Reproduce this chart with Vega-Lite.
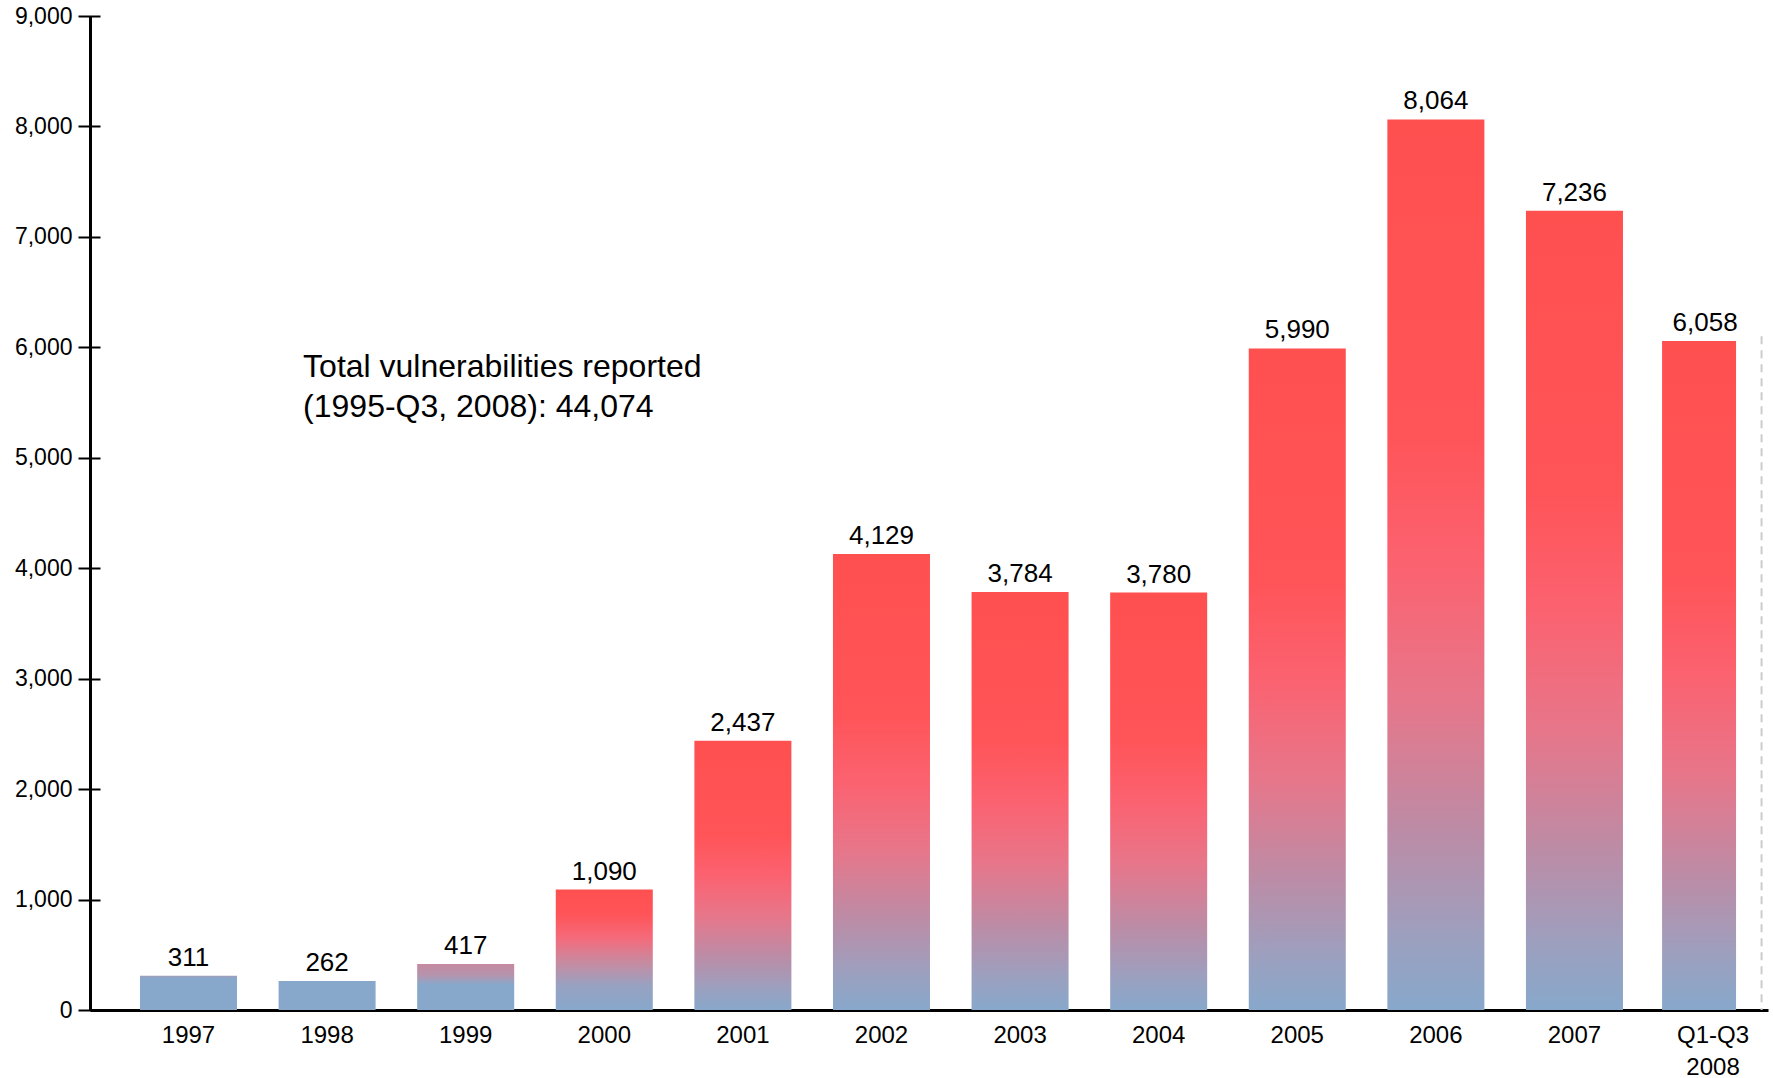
{
  "$schema": "https://vega.github.io/schema/vega-lite/v6.json",
  "autosize": {"type": "none"},
  "width": 1678,
  "height": 994,
  "padding": {"left": 90, "top": 16, "right": 5, "bottom": 68},
  "background": "white",
  "config": {
    "view": {"stroke": null},
    "font": "Liberation Sans",
    "axis": {"labelFont": "Liberation Sans", "titleFont": "Liberation Sans"},
    "text": {"font": "Liberation Sans"}
  },
  "data": {
    "values": [
      {"year": "1997", "value": 311},
      {"year": "1998", "value": 262},
      {"year": "1999", "value": 417},
      {"year": "2000", "value": 1090},
      {"year": "2001", "value": 2437},
      {"year": "2002", "value": 4129},
      {"year": "2003", "value": 3784},
      {"year": "2004", "value": 3780},
      {"year": "2005", "value": 5990},
      {"year": "2006", "value": 8064},
      {"year": "2007", "value": 7236},
      {"year": "Q1-Q3 2008", "value": 6058}
    ]
  },
  "encoding": {
    "x": {
      "field": "year",
      "type": "nominal",
      "sort": ["1997", "1998", "1999", "2000", "2001", "2002", "2003", "2004", "2005", "2006", "2007", "Q1-Q3 2008"],
      "title": null,
      "scale": {
        "domain": ["1997", "1998", "1999", "2000", "2001", "2002", "2003", "2004", "2005", "2006", "2007", "Q1-Q3 2008"],
        "paddingInner": 0.3, "paddingOuter": 0.2035, "align": 0.886
      },
      "axis": {
        "domain": true,
        "domainColor": "#000000",
        "domainWidth": 3,
        "ticks": false,
        "grid": false,
        "labelAngle": 0,
        "labelFontSize": 24,
        "labelColor": "#000000",
        "labelPadding": 13,
        "labelBaseline": "top",
        "labelLineHeight": 32,
        "labelExpr": "split(datum.value, ' ')",
        "title": null
      }
    }
  },
  "layer": [
    {
      "transform": [{"filter": "datum.value >= 2000 && datum.year != 'Q1-Q3 2008'"}],
      "mark": {
        "type": "bar",
        "fill": {
          "gradient": "linear", "x1": 0, "y1": 0, "x2": 0, "y2": 1,
          "stops": [
            {"offset": 0, "color": "#FF5050"},
            {"offset": 0.35, "color": "#FF5458"},
            {"offset": 0.5, "color": "#FB6270"},
            {"offset": 0.65, "color": "#E7768A"},
            {"offset": 0.8, "color": "#BC8CA6"},
            {"offset": 0.92, "color": "#9CA0BF"},
            {"offset": 1, "color": "#87A8CB"}
          ]
        }
      },
      "encoding": {
        "y": {
          "field": "value", "type": "quantitative", "title": null,
          "scale": {"domain": [0, 9000], "nice": false},
          "axis": {"orient": "left", "domain": true, "domainColor": "#000000", "domainWidth": 3, "ticks": false, "labels": false, "grid": false, "title": null}
        }
      }
    },
    {
      "transform": [{"filter": "datum.year == '2000'"}],
      "mark": {
        "type": "bar",
        "fill": {
          "gradient": "linear", "x1": 0, "y1": 0, "x2": 0, "y2": 1,
          "stops": [
            {"offset": 0, "color": "#FF5050"},
            {"offset": 0.2, "color": "#FF5458"},
            {"offset": 0.4, "color": "#F56A7A"},
            {"offset": 0.6, "color": "#C88AA0"},
            {"offset": 0.8, "color": "#98A2C2"},
            {"offset": 1, "color": "#87A8CB"}
          ]
        }
      },
      "encoding": {
        "y": {"field": "value", "type": "quantitative", "scale": {"domain": [0, 9000], "nice": false}, "axis": null}
      }
    },
    {
      "transform": [{"filter": "datum.year == '1999'"}],
      "mark": {
        "type": "bar",
        "fill": {
          "gradient": "linear", "x1": 0, "y1": 0, "x2": 0, "y2": 1,
          "stops": [
            {"offset": 0, "color": "#C68AA0"},
            {"offset": 0.25, "color": "#B494AE"},
            {"offset": 0.45, "color": "#88A8CB"},
            {"offset": 1, "color": "#87A8CB"}
          ]
        }
      },
      "encoding": {
        "y": {"field": "value", "type": "quantitative", "scale": {"domain": [0, 9000], "nice": false}, "axis": null}
      }
    },
    {
      "transform": [{"filter": "datum.year == '1997'"}],
      "mark": {
        "type": "bar",
        "fill": {
          "gradient": "linear", "x1": 0, "y1": 0, "x2": 0, "y2": 1,
          "stops": [
            {"offset": 0, "color": "#A29BB8"},
            {"offset": 0.08, "color": "#88A8CB"},
            {"offset": 1, "color": "#87A8CB"}
          ]
        }
      },
      "encoding": {
        "y": {"field": "value", "type": "quantitative", "scale": {"domain": [0, 9000], "nice": false}, "axis": null}
      }
    },
    {
      "transform": [{"filter": "datum.year == '1998'"}],
      "mark": {"type": "bar", "fill": "#87A8CB"},
      "encoding": {
        "y": {"field": "value", "type": "quantitative", "scale": {"domain": [0, 9000], "nice": false}, "axis": null}
      }
    },
    {
      "transform": [{"filter": "datum.year == 'Q1-Q3 2008'"}],
      "mark": {
        "type": "bar",
        "width": 74,
        "xOffset": -14,
        "y2Offset": -6,
        "fill": {
          "gradient": "linear", "x1": 0, "y1": 0, "x2": 0, "y2": 1,
          "stops": [
            {"offset": 0, "color": "#FF5050"},
            {"offset": 0.35, "color": "#FF5458"},
            {"offset": 0.5, "color": "#FB6270"},
            {"offset": 0.65, "color": "#E7768A"},
            {"offset": 0.8, "color": "#BC8CA6"},
            {"offset": 0.92, "color": "#9CA0BF"},
            {"offset": 1, "color": "#87A8CB"}
          ]
        }
      },
      "encoding": {
        "y": {"field": "value", "type": "quantitative", "scale": {"domain": [0, 9000], "nice": false}, "axis": null}
      }
    },
    {
      "transform": [{"filter": "datum.year != 'Q1-Q3 2008'"}],
      "mark": {"type": "text", "fontSize": 26, "dy": -10, "baseline": "alphabetic", "color": "#000000"},
      "encoding": {
        "y": {"field": "value", "type": "quantitative", "scale": {"domain": [0, 9000], "nice": false}, "axis": null},
        "text": {"field": "value", "type": "quantitative", "format": ","}
      }
    },
    {
      "transform": [{"filter": "datum.year == 'Q1-Q3 2008'"}],
      "mark": {"type": "text", "fontSize": 26, "dy": -10, "xOffset": -8, "baseline": "alphabetic", "color": "#000000"},
      "encoding": {
        "y": {"field": "value", "type": "quantitative", "scale": {"domain": [0, 9000], "nice": false}, "axis": null},
        "text": {"field": "value", "type": "quantitative", "format": ","}
      }
    },
    {
      "transform": [{"filter": "datum.year == 'Q1-Q3 2008'"}],
      "mark": {"type": "rule", "strokeDash": [8, 6], "color": "#cccccc", "strokeWidth": 2},
      "encoding": {
        "x": {"datum": "Q1-Q3 2008", "bandPosition": 1},
        "y": {
          "datum": 6100, "type": "quantitative",
          "scale": {"domain": [0, 9000], "nice": false},
          "axis": {
            "orient": "left", "offset": -10, "domain": false, "ticks": true, "tickSize": 22, "tickWidth": 2, "tickColor": "#000000",
            "labels": true, "labelFontSize": 23, "labelColor": "#000000", "labelPadding": 6,
            "labelExpr": "format(datum.value, ',')",
            "values": [0, 1000, 2000, 3000, 4000, 5000, 6000, 7000, 8000, 9000],
            "grid": false, "title": null
          }
        },
        "y2": {"datum": 0}
      }
    },
    {
      "transform": [{"filter": "datum.year == '1998'"}],
      "mark": {
        "type": "text", "fontSize": 32, "lineHeight": 40, "align": "left", "baseline": "alphabetic", "xOffset": -24, "color": "#000000",
        "text": ["Total vulnerabilities reported", "(1995-Q3, 2008): 44,074"]
      },
      "encoding": {
        "x": {"datum": "1998"},
        "y": {"datum": 5733, "type": "quantitative", "scale": {"domain": [0, 9000], "nice": false}, "axis": null}
      }
    }
  ],
  "resolve": {"axis": {"y": "independent"}}
}
